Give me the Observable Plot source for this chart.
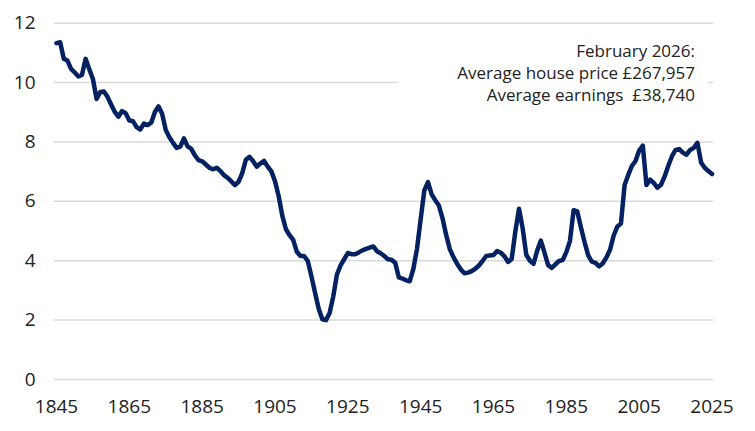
<!DOCTYPE html>
<html>
<head>
<meta charset="utf-8">
<script src="https://cdn.jsdelivr.net/npm/d3@7"></script>
<script src="https://cdn.jsdelivr.net/npm/@observablehq/plot@0.6"></script>
<style>
  html, body { margin: 0; padding: 0; background: #fff; }
  #wrap { position: relative; width: 755px; height: 431px; }
  #note {
    position: absolute; left: 398px; top: 33px; width: 297px; height: 72px;
    padding: 6.7px 13px 0 0; background: #fff; text-align: right;
    font-family: "Open Sans", sans-serif; font-size: 17px; line-height: 22px;
    color: #222; white-space: pre;
  }
</style>
</head>
<body>
<div id="wrap"></div>
<script>
const startYear = 1845;
const ratio = [
  11.33, 11.36, 10.80, 10.74, 10.46, 10.34, 10.21, 10.26, 10.80, 10.45,
  10.12, 9.45, 9.68, 9.70, 9.52, 9.26, 9.01, 8.85, 9.04, 8.97,
  8.72, 8.70, 8.50, 8.42, 8.62, 8.57, 8.65, 9.00, 9.20, 8.95,
  8.40, 8.16, 7.97, 7.80, 7.84, 8.12, 7.85, 7.77, 7.55, 7.39,
  7.35, 7.24, 7.13, 7.08, 7.13, 7.02, 6.88, 6.79, 6.67, 6.55,
  6.66, 6.95, 7.40, 7.50, 7.35, 7.17, 7.28, 7.36, 7.17, 7.01,
  6.68, 6.18, 5.52, 5.06, 4.86, 4.70, 4.30, 4.16, 4.16, 3.99,
  3.48, 2.92, 2.38, 2.03, 2.00, 2.24, 2.80, 3.53, 3.84, 4.05,
  4.26, 4.22, 4.22, 4.28, 4.35, 4.40, 4.44, 4.48, 4.32, 4.25,
  4.16, 4.05, 4.03, 3.93, 3.44, 3.40, 3.34, 3.31, 3.73, 4.41,
  5.40, 6.37, 6.65, 6.24, 6.04, 5.86, 5.43, 4.87, 4.39, 4.12,
  3.90, 3.71, 3.58, 3.60, 3.65, 3.73, 3.84, 3.99, 4.16, 4.18,
  4.19, 4.33, 4.27, 4.15, 3.96, 4.06, 4.99, 5.75, 5.10, 4.20,
  4.00, 3.90, 4.34, 4.68, 4.27, 3.85, 3.76, 3.88, 3.99, 4.02,
  4.29, 4.67, 5.70, 5.66, 5.13, 4.63, 4.18, 3.97, 3.93, 3.81,
  3.91, 4.11, 4.37, 4.85, 5.15, 5.25, 6.55, 6.89, 7.19, 7.36,
  7.71, 7.88, 6.55, 6.73, 6.62, 6.46, 6.56, 6.84, 7.20, 7.52,
  7.73, 7.76, 7.64, 7.57, 7.73, 7.80, 7.97, 7.31, 7.13, 7.02,
  6.92
];
const years = ratio.map((_, i) => startYear + i);
const xTicks = [1845, 1865, 1885, 1905, 1925, 1945, 1965, 1985, 2005, 2025];
const yTicks = [0, 2, 4, 6, 8, 10, 12];
const noteLines = ["February 2026:", "Average house price £267,957", "Average earnings  £38,740"];

const data = years.map((year, i) => ({year, ratio: ratio[i]}));

const chart = Plot.plot({
  width: 755,
  height: 431,
  marginLeft: 56,
  marginRight: 43.5,
  marginTop: 22.7,
  marginBottom: 52,
  style: {fontFamily: "'Open Sans', sans-serif", fontSize: "19px", color: "#222", background: "#fff", overflow: "visible"},
  x: {domain: [1845, 2025], ticks: xTicks, tickFormat: d => String(d), tickSize: 0, tickPadding: 20, label: null},
  y: {domain: [0, 12], ticks: yTicks, tickSize: 0, tickPadding: 21, label: null},
  marks: [
    Plot.ruleY(yTicks, {stroke: "#d9d9d9", strokeWidth: 1.5, insetLeft: -2, insetRight: -1.5}),
    Plot.lineY(data, {x: "year", y: "ratio", stroke: "#042262", strokeWidth: 4.5, strokeLinejoin: "round", strokeLinecap: "round"})
  ]
});

const wrap = document.getElementById("wrap");
wrap.appendChild(chart);
const note = document.createElement("div");
note.id = "note";
note.textContent = noteLines.join("\n");
wrap.appendChild(note);
</script>
</body>
</html>
